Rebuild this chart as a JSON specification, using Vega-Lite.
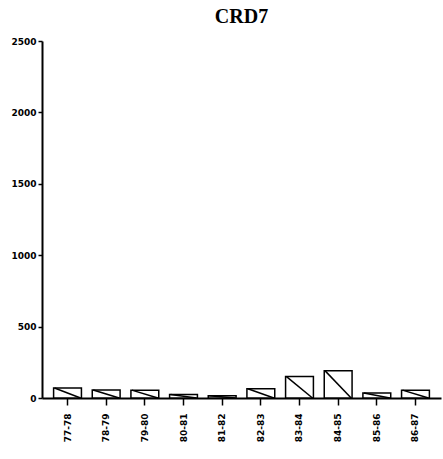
{
  "$schema": "https://vega.github.io/schema/vega-lite/v6.json",
  "width": 399,
  "height": 357,
  "autosize": {"type": "none"},
  "padding": {"left": 42, "top": 41, "right": 2, "bottom": 61},
  "background": "white",
  "title": {
    "text": "CRD7",
    "font": "Liberation Serif",
    "fontSize": 20,
    "fontWeight": "bold",
    "color": "black",
    "anchor": "middle",
    "offset": 10
  },
  "data": {
    "values": [
      {"season": "77-78", "value": 70},
      {"season": "78-79", "value": 56},
      {"season": "79-80", "value": 55},
      {"season": "80-81", "value": 25},
      {"season": "81-82", "value": 15},
      {"season": "82-83", "value": 65},
      {"season": "83-84", "value": 150},
      {"season": "84-85", "value": 190},
      {"season": "85-86", "value": 35},
      {"season": "86-87", "value": 55}
    ]
  },
  "config": {
    "view": {"stroke": null},
    "axis": {
      "domainColor": "black",
      "domainWidth": 2,
      "tickColor": "black",
      "tickWidth": 1.5,
      "labelColor": "black",
      "labelFont": "DejaVu Sans",
      "labelFontWeight": "bold",
      "labelFontSize": 9,
      "grid": false,
      "title": null
    }
  },
  "encoding": {
    "x": {
      "field": "season",
      "type": "nominal",
      "sort": null,
      "scale": {"paddingInner": 0.28, "paddingOuter": 0.3},
      "axis": {"labelAngle": -90, "tickSize": 7, "labelPadding": 8, "labelAlign": "right", "labelBaseline": "middle"}
    },
    "y": {
      "field": "value",
      "type": "quantitative",
      "scale": {"domain": [0, 2500], "nice": false},
      "axis": {"values": [0, 500, 1000, 1500, 2000, 2500], "format": "d", "tickSize": 4, "labelPadding": 2}
    }
  },
  "layer": [
    {"mark": {"type": "bar", "fill": "white", "stroke": "black", "strokeWidth": 1.5}},
    {
      "mark": {"type": "rule", "color": "black", "strokeWidth": 1.5, "xOffset": -13, "x2Offset": 13},
      "encoding": {
        "x2": {"field": "season"},
        "y2": {"datum": 0}
      }
    }
  ]
}
